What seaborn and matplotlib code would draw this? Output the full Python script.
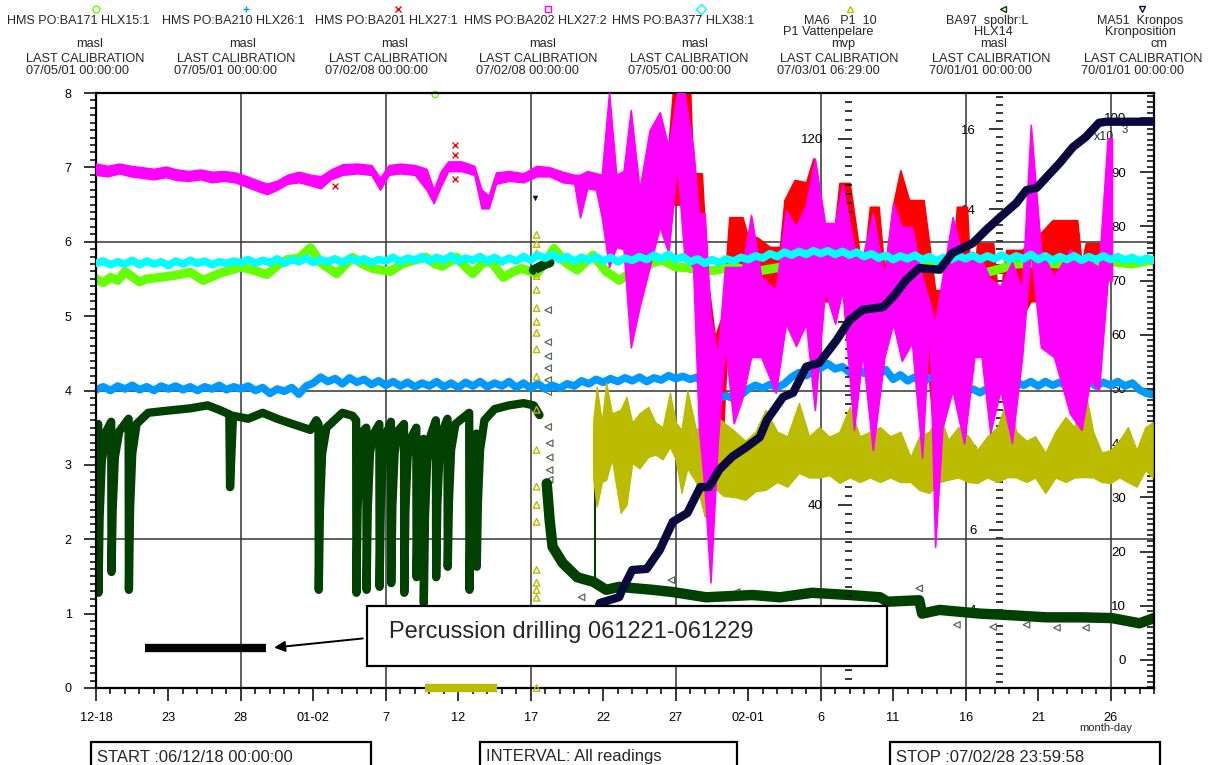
import numpy as np
import pandas as pd
import seaborn as sns
import matplotlib.pyplot as plt
from matplotlib.lines import Line2D
from matplotlib.patches import Rectangle
from matplotlib.ticker import MultipleLocator, FixedLocator

# x = days since 06-12-18 00:00
tick_days = [0, 5, 10, 15, 20, 25, 30, 35, 40, 45, 50, 55, 60, 65, 70]
tick_labels = ['12-18', '23', '28', '01-02', '7', '12', '17', '22', '27',
               '02-01', '6', '11', '16', '21', '26']
grid_days = [10, 20, 30, 40, 50, 60, 70]

# HLX15:1 (light green), masl
grn_day = [0, 0.5, 1, 1.5, 2, 3, 3.5, 4.4, 5.5, 6.5,
           7.4, 8.6, 10, 10.8, 11.8, 12.5, 13.2, 14, 14.8, 15.5,
           16.6, 17.7, 18.4, 19.1, 20.3, 21.1, 21.9, 22.8, 23.4, 23.9,
           24.9, 25.4, 26, 26.6, 27.2, 28.1, 28.8, 29.4, 30.4, 31.1,
           31.6, 32.4, 33.2, 34.3, 35.2, 36.1, 37.0, 37.7, 38.4, 39.1,
           40.0, 40.8, 41.8, 42.8, 44.0, 45.5, 47.0, 48.5, 50.0, 51.5,
           52.5, 53.5, 54.6, 55.8, 57.3, 58.5, 59.5, 60.5, 61.3, 62.1,
           63.5, 65.0, 66.5, 67.5, 68.3, 69.2, 70.1, 71.5, 72.7, 73.0]
grn_val = [5.50, 5.45, 5.52, 5.48, 5.60, 5.46, 5.50, 5.52, 5.55, 5.59,
           5.48, 5.58, 5.66, 5.62, 5.56, 5.68, 5.76, 5.78, 5.92, 5.72,
           5.57, 5.79, 5.70, 5.64, 5.60, 5.70, 5.75, 5.79, 5.70, 5.67,
           5.79, 5.68, 5.57, 5.70, 5.75, 5.52, 5.60, 5.64, 5.57, 5.75,
           5.91, 5.72, 5.62, 5.82, 5.60, 5.48, 5.60, 5.62, 5.72, 5.75,
           5.66, 5.65, 5.60, 5.62, 5.66, 5.60, 5.65, 5.70, 5.72, 5.70,
           5.66, 5.62, 5.52, 5.70, 5.75, 5.62, 5.55, 5.48, 5.58, 5.62,
           5.70, 5.72, 5.70, 5.62, 5.59, 5.68, 5.73, 5.70, 5.75, 5.74]

# half-day readings for HLX38:1 (cyan) and HLX26:1 (blue), masl
half_day = list(np.arange(0, 73.01, 0.5))
cyn_val = [5.71, 5.74, 5.69, 5.73, 5.70, 5.75, 5.69, 5.74, 5.70, 5.73,
           5.68, 5.74, 5.70, 5.75, 5.71, 5.74, 5.69, 5.73, 5.71, 5.74,
           5.72, 5.76, 5.71, 5.75, 5.72, 5.77, 5.71, 5.76, 5.73, 5.78,
           5.72, 5.76, 5.73, 5.77, 5.72, 5.78, 5.74, 5.77, 5.72, 5.76,
           5.74, 5.79, 5.73, 5.78, 5.75, 5.80, 5.74, 5.79, 5.75, 5.81,
           5.74, 5.78, 5.75, 5.80, 5.74, 5.79, 5.73, 5.78, 5.74, 5.80,
           5.75, 5.82, 5.78, 5.83, 5.76, 5.80, 5.74, 5.79, 5.75, 5.80,
           5.74, 5.79, 5.73, 5.78, 5.75, 5.80, 5.76, 5.82, 5.77, 5.83,
           5.76, 5.80, 5.73, 5.77, 5.71, 5.76, 5.72, 5.77, 5.74, 5.79,
           5.76, 5.81, 5.78, 5.84, 5.80, 5.86, 5.82, 5.87, 5.83, 5.88,
           5.84, 5.88, 5.83, 5.87, 5.82, 5.86, 5.80, 5.84, 5.78, 5.82,
           5.76, 5.81, 5.77, 5.82, 5.76, 5.80, 5.74, 5.79, 5.76, 5.81,
           5.77, 5.82, 5.76, 5.81, 5.77, 5.82, 5.76, 5.81, 5.77, 5.83,
           5.76, 5.81, 5.75, 5.80, 5.76, 5.81, 5.75, 5.80, 5.76, 5.81,
           5.76, 5.80, 5.75, 5.79, 5.74, 5.78, 5.75]
blu_val = [4.01, 4.05, 4.00, 4.06, 4.02, 4.07, 4.01, 4.05, 4.00, 4.06,
           4.02, 4.06, 4.01, 4.05, 4.00, 4.05, 4.02, 4.07, 4.01, 4.05,
           4.02, 4.06, 4.00, 4.04, 3.96, 4.02, 3.99, 4.04, 3.95, 4.06,
           4.10, 4.18, 4.12, 4.16, 4.09, 4.17, 4.11, 4.15, 4.08, 4.13,
           4.07, 4.12, 4.06, 4.11, 4.05, 4.10, 4.06, 4.12, 4.05, 4.10,
           4.04, 4.11, 4.06, 4.12, 4.05, 4.10, 4.06, 4.12, 4.04, 4.10,
           4.03, 4.09, 4.02, 4.07, 4.03, 4.09, 4.06, 4.13, 4.09, 4.15,
           4.11, 4.16, 4.12, 4.17, 4.13, 4.18, 4.12, 4.17, 4.14, 4.20,
           4.16, 4.19, 4.15, 4.18, 4.03, 4.00, 3.90, 3.93, 3.89, 3.94,
           4.02, 4.07, 4.03, 4.08, 4.04, 4.09, 4.18, 4.24, 4.20, 4.26,
           4.30, 4.36, 4.29, 4.32, 4.24, 4.30, 4.23, 4.29, 4.22, 4.28,
           4.15, 4.21, 4.13, 4.18, 4.10, 4.17, 4.18, 4.24, 4.03, 3.99,
           3.98, 4.02, 3.97, 4.03, 4.07, 4.12, 4.06, 4.11, 4.07, 4.12,
           4.06, 4.12, 4.07, 4.11, 4.06, 4.12, 4.07, 4.13, 4.06, 4.11,
           4.07, 4.12, 4.06, 4.10, 4.01, 3.96, 3.94]

# HLX27:2 (magenta), masl, low / high envelope of the readings
mag_day = [0.0, 0.8, 1.6, 2.4, 3.2, 4.0, 4.8, 5.6, 6.4, 7.2,
           8.0, 8.8, 9.6, 10.4, 11.2, 11.8, 12.5, 13.2, 14.0, 14.8,
           15.5, 16.2, 17.0, 18.0, 19.0, 19.6, 20.2, 21.0, 22.0, 22.8,
           23.3, 23.8, 24.3, 25.2, 26.1, 26.6, 27.1, 27.6, 28.5, 29.5,
           30.4, 31.3, 32.2, 33.0, 33.4, 33.9, 34.5, 34.9, 35.4, 35.9,
           36.4, 36.9, 37.5, 38.2, 38.9, 39.5, 40.1, 40.6, 41.2, 41.6,
           42.0, 42.4, 42.9, 43.4, 44.0, 44.6, 45.2, 45.9, 46.9, 47.6,
           48.3, 49.0, 49.6, 50.3, 51.0, 51.5, 52.3, 52.9, 53.6, 54.4,
           55.0, 55.6, 56.3, 57.0, 57.5, 57.9, 58.4, 59.1, 59.9, 60.6,
           61.1, 61.7, 62.4, 63.2, 63.9, 64.5, 65.2, 66.1, 67.2, 68.0,
           68.6, 69.2, 69.8, 70.1]
mag_lo = [6.90, 6.88, 6.92, 6.88, 6.86, 6.84, 6.87, 6.83, 6.82, 6.84,
          6.80, 6.82, 6.80, 6.74, 6.68, 6.64, 6.70, 6.78, 6.80, 6.76,
          6.72, 6.84, 6.90, 6.92, 6.90, 6.70, 6.90, 6.92, 6.90, 6.70,
          6.52, 6.75, 6.95, 6.95, 6.90, 6.45, 6.45, 6.78, 6.82, 6.80,
          6.88, 6.88, 6.80, 6.78, 6.33, 6.72, 6.70, 6.33, 5.66, 5.93,
          5.90, 4.58, 5.12, 5.66, 6.20, 5.85, 7.05, 5.80, 5.66, 3.50,
          2.66, 1.42, 3.30, 4.64, 3.56, 3.90, 4.45, 4.45, 3.97, 4.90,
          4.60, 4.90, 3.74, 5.35, 4.90, 5.35, 3.47, 4.50, 3.20, 4.45,
          4.90, 4.40, 4.64, 3.10, 4.90, 1.90, 3.50, 4.00, 3.29, 4.45,
          4.45, 3.43, 4.00, 3.30, 4.45, 5.89, 4.58, 4.45, 3.69, 3.47,
          4.14, 4.00, 5.48, 5.48]
mag_hi = [7.05, 7.02, 7.05, 7.02, 7.00, 6.98, 7.01, 6.97, 6.95, 6.97,
          6.94, 6.95, 6.93, 6.88, 6.82, 6.78, 6.82, 6.90, 6.94, 6.90,
          6.88, 6.97, 7.04, 7.05, 7.03, 6.86, 7.03, 7.05, 7.03, 6.98,
          6.70, 6.95, 7.08, 7.08, 7.02, 6.70, 6.62, 6.93, 6.95, 6.92,
          7.02, 7.00, 6.94, 6.90, 6.90, 6.95, 6.92, 6.90, 8.00, 6.90,
          6.95, 7.77, 6.70, 7.50, 7.74, 7.27, 8.00, 8.00, 7.27, 6.38,
          6.38, 5.00, 4.45, 5.66, 5.66, 5.66, 6.36, 5.53, 5.35, 6.42,
          6.20, 6.50, 7.12, 6.25, 6.25, 6.76, 5.93, 5.80, 6.38, 5.53,
          6.52, 6.20, 6.20, 5.53, 5.20, 4.90, 5.52, 6.33, 5.73, 5.76,
          5.76, 5.50, 5.40, 5.73, 5.35, 7.57, 5.89, 5.53, 5.89, 5.80,
          5.73, 5.66, 7.39, 7.39]

# HLX27:1 (red), masl, where it shows above the magenta
red_day = [39.5, 39.8, 41.0, 41.2, 41.8, 42.2, 42.7, 43.2, 43.7, 44.6,
           45.0, 45.6, 46.5, 47.2, 47.5, 48.2, 49.0, 49.5, 49.9, 51.0,
           51.3, 52.0, 52.4, 52.9, 53.4, 54.0, 54.4, 55.0, 55.5, 56.1,
           57.1, 57.9, 59.0, 59.4, 60.1, 60.4, 60.8, 61.9, 62.3, 62.8,
           63.9, 64.5, 64.9, 66.0, 67.7, 68.0, 68.3, 69.2, 69.6]
red_lo = [6.00, 6.50, 6.50, 5.80, 5.50, 4.00, 2.90, 3.20, 5.20, 5.30,
          5.20, 5.30, 5.30, 5.20, 5.20, 5.30, 5.30, 5.20, 5.20, 5.20,
          5.30, 5.20, 5.20, 5.00, 5.20, 5.20, 5.20, 5.30, 5.30, 5.20,
          5.00, 3.20, 4.50, 5.00, 5.00, 4.80, 5.00, 5.00, 4.80, 5.00,
          5.00, 5.20, 5.20, 5.20, 5.20, 5.00, 5.20, 5.20, 5.30]
red_hi = [7.30, 8.00, 8.00, 6.92, 6.92, 5.50, 4.72, 5.00, 6.33, 6.33,
          6.06, 6.06, 5.93, 5.93, 6.56, 6.83, 6.80, 7.12, 6.25, 6.25,
          6.79, 6.79, 6.25, 5.52, 6.47, 6.47, 5.60, 6.50, 6.96, 6.56,
          6.56, 5.35, 5.35, 6.47, 6.47, 5.17, 5.98, 5.98, 5.12, 5.89,
          5.89, 6.00, 6.06, 6.29, 6.29, 5.71, 5.98, 5.98, 5.60]
redx_day = [16.5, 24.8, 24.8, 24.8]
redx_val = [6.75, 7.30, 7.16, 6.85]

# MA6 P1 10 (olive), mvp
olv_day = [34.30, 34.55, 34.90, 35.20, 35.60, 36.20, 36.60, 37.00, 37.50, 38.10,
           38.60, 39.10, 39.60, 40.00, 40.40, 40.80, 41.40, 42.00, 42.60, 43.30,
           44.10, 44.80, 45.50, 46.20, 47.00, 47.70, 48.50, 49.20, 49.90, 50.60,
           51.30, 52.00, 52.70, 53.40, 54.10, 54.80, 55.50, 56.20, 56.80, 57.50,
           58.20, 58.80, 59.50, 60.20, 60.80, 61.50, 62.20, 62.90, 63.50, 64.20,
           64.80, 65.50, 66.20, 66.90, 67.50, 68.20, 68.80, 69.40, 70.00, 70.60,
           71.20, 71.80, 72.40, 72.90]
olv_lo = [46, 39.6, 45, 45.5, 50, 38.3, 40, 49.2, 48, 50.5,
          51, 50, 52.7, 50, 42.6, 48, 45, 37.4, 43.9, 42,
          41.7, 41.1, 43, 43.3, 45, 44, 47, 46, 46, 46.5,
          44.8, 46, 45, 46, 45, 46, 45, 45, 43.3, 42.6,
          45, 45.5, 46, 45, 44.8, 46, 45, 46.1, 46, 45,
          46, 42.6, 46, 45, 46, 46.1, 46, 45, 44.8, 46,
          45, 44, 47.6, 46]
olv_hi = [58, 65.8, 58, 66.7, 60, 60.8, 63.6, 58, 60, 61.4,
          58, 57, 64.5, 58, 56.4, 65, 56.4, 57.9, 60.1, 58,
          56, 54, 56, 60.8, 56, 55, 62.3, 55, 57, 54.9,
          56, 61.4, 55, 56, 57, 55, 56, 50.5, 55, 56,
          60.1, 54.2, 57, 55, 52, 55, 57, 63.6, 56, 54,
          55, 51.4, 56, 59.2, 57, 65.8, 56, 51.4, 52, 54,
          57, 52, 57, 58]
olv0_day = [22.7, 27.7]
olv0_val = [0, 0]
olm_day = [30.4, 30.4, 30.4, 30.4, 30.4, 30.4, 30.4, 30.4, 30.4, 30.4,
           30.4, 30.4, 30.4, 30.4, 30.4, 30.4, 30.4, 30.4, 30.4, 30.4]
olm_val = [99, 97, 95, 90, 87, 83, 80, 77.6, 74, 68,
           60.8, 52, 44, 40, 36.3, 25.8, 23, 21.4, 19.7, 0]

# BA97 spolbr:L HLX14 (dark green), masl
dg1_day = [0.00, 0.15, 0.17, 0.25, 0.40, 0.70,
           1.05, 1.07, 1.15, 1.30, 1.60,
           2.25, 2.27, 2.35, 2.50, 2.80,
           3.60, 4.50, 5.50, 6.50, 7.70, 8.50, 9.20, 9.25, 9.45,
           10.50, 11.50, 12.50, 13.40, 14.80, 15.20,
           15.35, 15.37, 15.45, 15.60, 15.90, 17.00, 17.70,
           17.95, 17.97, 18.05, 18.20, 18.40,
           18.65, 18.67, 18.75, 18.90, 19.10,
           19.55, 19.57, 19.65, 19.80, 20.00,
           20.35, 20.37, 20.45, 20.60, 20.80,
           21.25, 21.27, 21.35, 21.50, 21.70,
           22.10, 22.12, 22.20, 22.35,
           22.60, 22.62, 22.70, 22.85, 23.10,
           23.45, 23.47, 23.55, 23.70, 23.90,
           24.25, 24.27, 24.35, 24.50, 24.80,
           25.75, 25.77, 25.85, 26.00,
           26.25, 26.27, 26.35, 26.50, 26.80,
           27.50, 28.50, 29.50, 30.20, 30.60]
dg1_val = [3.37, 3.55, 1.28, 2.30, 3.05, 3.45,
           3.58, 1.56, 2.40, 3.10, 3.45,
           3.62, 1.32, 2.40, 3.15, 3.55,
           3.70, 3.72, 3.74, 3.76, 3.80, 3.74, 3.68, 2.70, 3.66,
           3.62, 3.70, 3.62, 3.56, 3.47, 3.60,
           3.55, 1.32, 2.40, 3.15, 3.50, 3.70, 3.66,
           3.60, 1.28, 2.40, 3.15, 3.45,
           3.50, 1.32, 2.40, 3.15, 3.40,
           3.55, 1.36, 2.45, 3.15, 3.40,
           3.58, 1.41, 2.45, 3.15, 3.45,
           3.55, 1.28, 2.40, 3.10, 3.35,
           3.50, 1.49, 2.40, 3.05,
           3.35, 1.14, 2.30, 3.05, 3.40,
           3.60, 1.49, 2.45, 3.15, 3.45,
           3.62, 1.63, 2.50, 3.20, 3.55,
           3.70, 1.32, 2.40, 3.10,
           3.42, 1.63, 2.50, 3.20, 3.60,
           3.75, 3.80, 3.83, 3.80, 3.67]
dg2_day = [30.2, 30.6, 31.0, 31.3]
dg2_val = [5.62, 5.66, 5.70, 5.72]
dg3_day = [31.1, 31.3, 31.5, 32.2, 33.2, 33.9, 34.3, 35.2, 36.1, 38.4,
           39.8, 42.1, 45.3, 47.2, 49.4, 52.0, 54.1, 54.6, 56.8, 57.0,
           58.2, 61.0, 63.0, 65.6, 68.0, 70.1, 72.0, 73.0]
dg3_val = [2.75, 2.26, 1.90, 1.68, 1.49, 1.45, 1.43, 1.32, 1.36, 1.32,
           1.29, 1.22, 1.25, 1.22, 1.28, 1.25, 1.22, 1.16, 1.18, 1.00,
           1.05, 1.00, 0.98, 0.95, 0.95, 0.94, 0.87, 0.94]
dgc_day = [34.4, 34.4]
dgc_val = [1.45, 3.40]
dgm_day = [31.2, 31.2, 31.2, 31.2, 31.2, 31.2, 31.2, 31.3, 31.3, 31.3,
           31.3, 33.5, 39.7, 44.2, 56.8, 59.4, 61.9, 64.2, 66.3, 68.3]
dgm_val = [5.08, 4.65, 4.46, 4.30, 4.14, 3.98, 3.51, 3.29, 3.10, 2.93,
           2.80, 1.22, 1.45, 1.29, 1.34, 0.85, 0.82, 0.85, 0.81, 0.81]

# MA51 Kronpos (navy), cm x10^3
kr_day = [33.5, 34.76, 36.1, 36.3, 37.0, 38.0, 38.9, 39.8, 40.8, 41.7,
          42.3, 43.0, 43.9, 44.9, 45.8, 46.3, 47.4, 48.1, 49.0, 49.9,
          51.1, 52.0, 52.9, 54.3, 55.0, 55.9, 56.8, 58.2, 59.1, 60.5,
          61.4, 62.3, 63.5, 64.2, 64.9, 66.5, 67.4, 68.3, 69.2, 69.7, 72.9]
kr_val = [0.0, 10.5, 11.6, 12.9, 16.6, 16.8, 20.3, 25.5, 27.1, 31.9,
          31.9, 35.1, 37.5, 39.3, 41.1, 44.3, 48.5, 49.3, 54.1, 54.8,
          59.0, 62.7, 64.6, 65.1, 67.0, 70.1, 72.3, 72.0, 75.1, 76.9,
          79.3, 81.5, 84.3, 86.7, 87.1, 91.7, 94.6, 96.5, 99.1, 99.3, 99.3]
krm_day = [30.3]
krm_val = [85.2]

# drilling period marker
drill_day = [3.4, 11.7]
drill_val = [0.54, 0.54]

# header
titles = ['HMS PO:BA171 HLX15:1', 'HMS PO:BA210 HLX26:1', 'HMS PO:BA201 HLX27:1',
          'HMS PO:BA202 HLX27:2', 'HMS PO:BA377 HLX38:1', 'MA6   P1  10',
          'BA97  spolbr:L', 'MA51  Kronpos']
subtitles = ['', '', '', '', '', 'P1 Vattenpelare', 'HLX14', 'Kronposition']
units = ['masl', 'masl', 'masl', 'masl', 'masl', 'mvp', 'masl', 'cm']
calib = ['07/05/01 00:00:00', '07/05/01 00:00:00', '07/02/08 00:00:00',
         '07/02/08 00:00:00', '07/05/01 00:00:00', '07/03/01 06:29:00',
         '70/01/01 00:00:00', '70/01/01 00:00:00']

C_GRN, C_BLU, C_RED, C_MAG = '#66ff00', '#0099ff', '#ff0000', '#ff00ff'
C_CYN, C_OLV, C_DKG, C_NAV = '#00ffff', '#bbbb00', '#004000', '#0a0a40'
head_colors = [C_GRN, C_BLU, C_RED, C_MAG, C_CYN, C_OLV, C_DKG, C_NAV]
head_markers = ['o', '+', 'x', 's', 'D', '^', '<', 'v']

sns.set_theme(style="white")
plt.rcParams['font.family'] = ['Liberation Sans', 'DejaVu Sans']

W, H = 1218, 765
fig = plt.figure(figsize=(W / 100, H / 100), dpi=100)
fx = lambda x: x / W
fy = lambda y: 1 - y / H

ax = fig.add_axes([fx(96), fy(688), (1154 - 96) / W, (688 - 93) / H])
ax_bt = ax.twinx()   # BA97 scale (ticks only)
ax_kt = ax.twinx()   # Kronpos scale (ticks only)
ax_o = ax.twinx()    # mvp scale, olive data
ax_m = ax.twinx()    # masl again, magenta + cyan on top
ax_k = ax.twinx()    # Kronpos data
for z, a in enumerate([ax_bt, ax_kt, ax, ax_o, ax_m, ax_k]):
    a.set_zorder(z)
    a.patch.set_visible(False)

# --- base axes: green, blue, red, dark green
for d in grid_days:
    ax.axvline(d, color='#333333', lw=1.1, zorder=0.5)
for v in [2, 4, 6]:
    ax.axhline(v, color='#333333', lw=1.1, zorder=0.5)

sns.lineplot(x=grn_day, y=grn_val, ax=ax, color=C_GRN, lw=6.5, estimator=None, sort=False)
sns.lineplot(x=half_day, y=blu_val, ax=ax, color=C_BLU, lw=5.5, estimator=None, sort=False)
ax.fill_between(red_day, red_lo, red_hi, color=C_RED, lw=1.2)
sns.scatterplot(x=redx_day, y=redx_val, ax=ax, marker='x', color=C_RED, s=18, linewidth=1)
sns.lineplot(x=dg1_day, y=dg1_val, ax=ax, color=C_DKG, lw=6, estimator=None, sort=False)
sns.lineplot(x=dg2_day, y=dg2_val, ax=ax, color=C_DKG, lw=7, estimator=None, sort=False)
sns.lineplot(x=dg3_day, y=dg3_val, ax=ax, color=C_DKG, lw=7.5, estimator=None, sort=False)
sns.lineplot(x=dgc_day, y=dgc_val, ax=ax, color=C_DKG, lw=1.5, estimator=None, sort=False)
sns.scatterplot(x=dgm_day, y=dgm_val, ax=ax, marker='<', facecolor='none',
                edgecolor='#556b55', s=22, linewidth=0.9)
sns.scatterplot(x=[23.4], y=[7.98], ax=ax, marker='o', facecolor='none',
                edgecolor=C_GRN, s=20, linewidth=1, clip_on=False)
sns.lineplot(x=drill_day, y=drill_val, ax=ax, color='black', lw=6,
             estimator=None, sort=False, solid_capstyle='butt')
ax.annotate('', xy=(12.1, 0.54), xytext=(18.6, 0.67),
            arrowprops=dict(arrowstyle='-|>', color='black', lw=1.4, mutation_scale=16))

# --- olive (mvp)
ax_o.fill_between(olv_day, olv_lo, olv_hi, color=C_OLV, lw=1.0)
sns.lineplot(x=olv0_day, y=olv0_val, ax=ax_o, color=C_OLV, lw=6,
             estimator=None, sort=False, clip_on=False, solid_capstyle='butt')
sns.scatterplot(x=olm_day, y=olm_val, ax=ax_o, marker='^', facecolor='none',
                edgecolor=C_OLV, s=22, linewidth=1, clip_on=False)

# --- magenta + cyan
ax_m.fill_between(mag_day, mag_lo, mag_hi, color=C_MAG, lw=1.2)
sns.lineplot(x=half_day, y=cyn_val, ax=ax_m, color=C_CYN, lw=5.5, estimator=None, sort=False)

# --- navy
sns.lineplot(x=kr_day, y=kr_val, ax=ax_k, color=C_NAV, lw=6, estimator=None, sort=False)
sns.scatterplot(x=krm_day, y=krm_val, ax=ax_k, marker='v', color=C_NAV, s=16, linewidth=0)

# --- scales
ax.set_xlim(0, 73)
ax.set_ylim(0, 8)
ax_m.set_ylim(0, 8)
ax_o.set_ylim(0, 130)
ax_bt.set_ylim(2.05, 16.9)
ax_kt.set_ylim(-5.17, 104.6)
ax_k.set_ylim(-5.17, 104.6)
for a in [ax, ax_bt, ax_kt, ax_o, ax_m, ax_k]:
    a.set_xlabel('')
    a.set_ylabel('')

ax.set_xticks(tick_days, tick_labels)
ax.xaxis.set_minor_locator(MultipleLocator(1))
ax.yaxis.set_major_locator(MultipleLocator(1))
ax.yaxis.set_minor_locator(MultipleLocator(0.1))
ax.tick_params(axis='both', which='both', bottom=True, left=True, colors='black',
               direction='out', width=1.1)
ax.tick_params(axis='x', which='major', length=9, pad=8, labelsize=9.2)
ax.tick_params(axis='x', which='minor', length=4)
ax.tick_params(axis='y', which='major', length=8.5, pad=9, labelsize=9)
ax.tick_params(axis='y', which='minor', length=4.5)
for s in ax.spines.values():
    s.set_linewidth(1.6)
    s.set_color('black')


def inner_axis(a, pos, major, minor, pad):
    for s in a.spines.values():
        s.set_visible(False)
    a.spines['left'].set_position(('axes', pos))
    a.yaxis.set_ticks_position('left')
    a.yaxis.set_major_locator(FixedLocator(major))
    a.yaxis.set_minor_locator(MultipleLocator(minor))
    a.tick_params(axis='y', which='both', left=True, right=False, direction='out',
                  width=1.1, colors='black')
    a.tick_params(axis='y', which='major', length=10, pad=pad, labelsize=9.5)
    a.tick_params(axis='y', which='minor', length=5)


inner_axis(ax_o, 0.7146, [40, 80, 120], 2, 11)
inner_axis(ax_bt, 0.857, [4, 6, 8, 10, 12, 14, 16], 0.2, 9)
inner_axis(ax_kt, 1.0, list(range(0, 101, 10)), 1, 10)
for a in [ax_m, ax_k]:
    for s in a.spines.values():
        s.set_visible(False)
    a.yaxis.set_visible(False)

fig.text(fx(1104), fy(137), 'x10', ha='center', va='center', fontsize=9)
fig.text(fx(1125), fy(130), '3', ha='center', va='center', fontsize=8)

# --- header
title_x = [78, 233, 386, 535, 683, 840, 987, 1140]
sub_x = [0, 0, 0, 0, 0, 828, 993, 1140]
unit_x = [90, 243, 395, 543, 695, 843, 994, 1159]
calib_x = [26, 177, 329, 479, 630, 780, 932, 1084]
date_x = [26, 174, 325, 476, 628, 777, 929, 1081]
mark_x = [96, 246, 398, 548, 701, 850, 1003, 1142]
for i in range(8):
    fig.add_artist(Line2D([fx(mark_x[i])], [fy(9)], transform=fig.transFigure,
                          marker=head_markers[i], ms=5, mfc='none',
                          mec=head_colors[i], mew=1, ls='none'))
    fig.text(fx(title_x[i]), fy(21), titles[i], ha='center', va='center', fontsize=9)
    if subtitles[i]:
        fig.text(fx(sub_x[i]), fy(32), subtitles[i], ha='center', va='center', fontsize=9.2)
    fig.text(fx(unit_x[i]), fy(44), units[i], ha='center', va='center', fontsize=9.2)
    fig.text(fx(calib_x[i]), fy(59), 'LAST CALIBRATION', ha='left', va='center', fontsize=9.2)
    fig.text(fx(date_x[i]), fy(71), calib[i], ha='left', va='center', fontsize=9.2)

fig.text(fx(1106), fy(728), 'month-day', ha='center', va='center', fontsize=8)

# --- footer boxes
for x0, x1, tx, s in [(91, 371, 97, 'START :06/12/18 00:00:00'),
                      (480, 737, 486, 'INTERVAL: All readings'),
                      (890, 1160, 896, 'STOP :07/02/28 23:59:58')]:
    fig.add_artist(Rectangle((fx(x0), fy(780)), (x1 - x0) / W, (780 - 742) / H,
                             transform=fig.transFigure, fill=False, ec='black', lw=1.6))
    fig.text(fx(tx), fy(757), s, ha='left', va='center', fontsize=12)

# --- annotation box
fig.add_artist(Rectangle((fx(367), fy(666)), (887 - 367) / W, (666 - 606) / H,
                         transform=fig.transFigure, fc='white', ec='black', lw=1.6,
                         zorder=10))
fig.text(fx(389), fy(632), 'Percussion drilling 061221-061229', ha='left', va='center',
         fontsize=17, zorder=11)

fig.savefig('out.png', dpi=100)
